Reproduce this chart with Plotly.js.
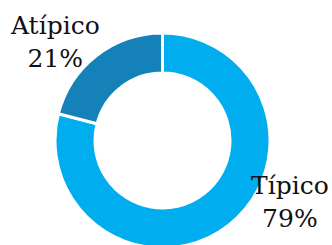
<!DOCTYPE html>
<html>
<head>
<meta charset="utf-8">
<script src="https://cdn.plot.ly/plotly-3.0.1.min.js"></script>
<style>
html,body{margin:0;padding:0;overflow:hidden;background:#fff;}
#chart{width:332px;height:250px;}
</style>
</head>
<body>
<div id="chart"></div>
<script>
var labels = ["Típico", "Atípico"];
var values = [79, 21];
var colors = ["#00AEEF", "#1482B8"];

var total = values.reduce(function(a,b){return a+b;}, 0);
function pctText(i){ return labels[i] + "<br>" + Math.round(values[i]/total*100) + "%"; }

var font = {family: "DejaVu Serif", size: 25, color: "#111"};

var data = [{
  type: "pie",
  labels: labels,
  values: values,
  hole: 0.628,
  sort: false,
  direction: "clockwise",
  rotation: 0,
  textinfo: "none",
  hoverinfo: "none",
  marker: {colors: colors, line: {color: "#ffffff", width: 3}},
  showlegend: false
}];

var layout = {
  width: 332, height: 250,
  margin: {l: 55, r: 62, t: 33, b: 2},
  paper_bgcolor: "#ffffff",
  font: font,
  showlegend: false,
  annotations: [
    {text: pctText(1), xref: "paper", yref: "paper", x: 0.0, y: 0.958, xanchor: "center", yanchor: "middle", showarrow: false, font: font, align: "center"},
    {text: pctText(0), xref: "paper", yref: "paper", x: 1.093, y: 0.215, xanchor: "center", yanchor: "middle", showarrow: false, font: font, align: "center"}
  ]
};

Plotly.newPlot("chart", data, layout, {displayModeBar: false});
</script>
</body>
</html>
